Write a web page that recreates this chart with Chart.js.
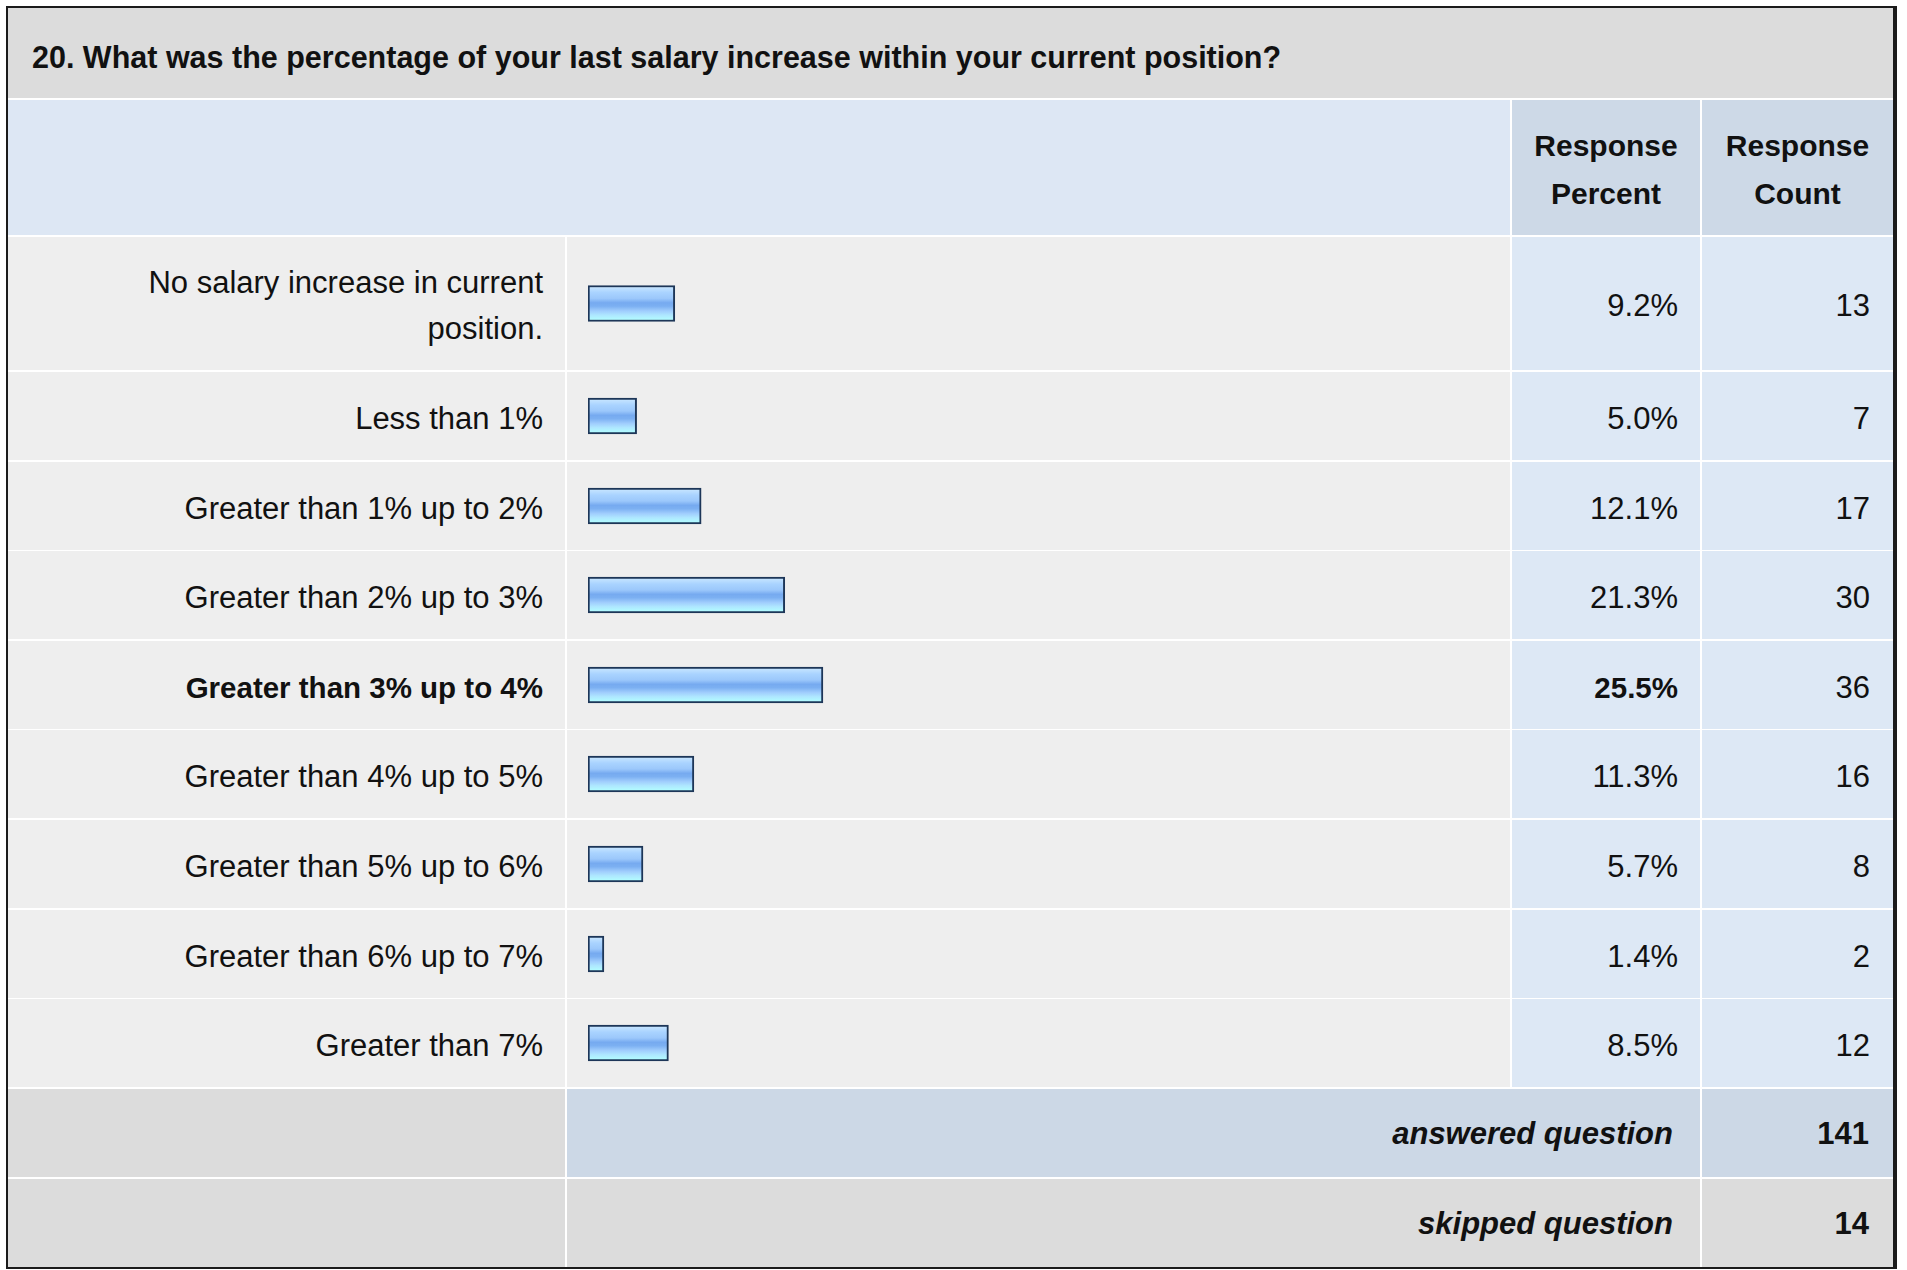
<!DOCTYPE html>
<html>
<head>
<meta charset="utf-8">
<script src="https://cdn.jsdelivr.net/npm/chart.js@4.4.0/dist/chart.umd.min.js"></script>
<style>
  body { margin: 0; background: #fff; font-family: "Liberation Sans", Arial, sans-serif; color: #111; }
  #frame { position: absolute; left: 6px; top: 6px; width: 1885px; height: 1259px; border: 2px solid #1b1b1b; border-right-width: 4px; background: #fff; }
  .cell { position: absolute; box-sizing: border-box; display: flex; align-items: center; }
  .title { background: #dcdcdc; font-weight: bold; font-size: 30.5px; padding: 8px 0 0 24px; }
  .head { background: #dde7f4; }
  .headcol { background: #cdd9e7; font-weight: bold; font-size: 30px; justify-content: center; text-align: center; line-height: 48px; padding-top: 4px; }
  .label { background: #eeeeee; font-size: 31px; justify-content: flex-end; text-align: right; padding-right: 22px; line-height: 46px; padding-top: 5px; }
  .label span { max-width: 430px; }
  .bar { background: #eeeeee; }
  .val { background: #dde8f5; font-size: 31px; justify-content: flex-end; padding-top: 5px; }
  .pct { padding-right: 22px; }
  .cnt { padding-right: 23px; }
  .foot { background: #dcdcdc; }
  .foot.blue { background: #ccd8e6; }
  .foottxt { font-size: 31px; font-weight: bold; justify-content: flex-end; padding-top: 2px; }
  .bold { font-weight: bold; font-size: 29.5px; }
</style>
</head>
<body>
<div id="frame"></div>
<div id="table"></div>
<script>
const questionTitle = '20. What was the percentage of your last salary increase within your current position?';
const categories = [
  'No salary increase in current position.',
  'Less than 1%',
  'Greater than 1% up to 2%',
  'Greater than 2% up to 3%',
  'Greater than 3% up to 4%',
  'Greater than 4% up to 5%',
  'Greater than 5% up to 6%',
  'Greater than 6% up to 7%',
  'Greater than 7%'
];
const responsePercent = [9.2, 5.0, 12.1, 21.3, 25.5, 11.3, 5.7, 1.4, 8.5];
const responseCount = [13, 7, 17, 30, 36, 16, 8, 2, 12];
const answeredQuestion = 141;
const skippedQuestion = 14;

const table = document.getElementById('table');

function addCell(cls, x, y, w, h, html) {
  const d = document.createElement('div');
  d.className = 'cell ' + cls;
  d.style.left = x + 'px';
  d.style.top = y + 'px';
  d.style.width = w + 'px';
  d.style.height = h + 'px';
  if (html !== undefined) d.innerHTML = html;
  table.appendChild(d);
  return d;
}

function barGradient(c) {
  const area = c.chart.chartArea;
  if (!area) return '#8ebdf5';
  const mid = (area.top + area.bottom) / 2;
  const g = c.chart.ctx.createLinearGradient(0, mid - 17, 0, mid + 17);
  g.addColorStop(0, '#c8e6ff');
  g.addColorStop(0.18, '#a9d3ff');
  g.addColorStop(0.35, '#9cc8fb');
  g.addColorStop(0.48, '#76aaf0');
  g.addColorStop(0.58, '#7cb0f2');
  g.addColorStop(0.72, '#a0cdfd');
  g.addColorStop(0.84, '#aee6ff');
  g.addColorStop(1, '#b2ffff');
  return g;
}

function drawBar(cell, w, h, value) {
  const canvas = document.createElement('canvas');
  canvas.width = w;
  canvas.height = h;
  cell.appendChild(canvas);
  new Chart(canvas, {
    type: 'bar',
    data: {
      labels: [''],
      datasets: [{
        data: [value],
        base: -0.35,  // border sits outside the value, like the original
        barThickness: 36,
        borderWidth: 2,
        borderColor: '#1d3658',
        borderSkipped: false,
        backgroundColor: barGradient
      }]
    },
    options: {
      indexAxis: 'y',
      responsive: false,
      animation: false,
      devicePixelRatio: 1,
      layout: { padding: { left: 21, right: 10, top: 0, bottom: 0 } },
      scales: {
        x: { display: false, min: -0.35, max: 100 },
        y: { display: false }
      },
      plugins: { legend: { display: false }, tooltip: { enabled: false } }
    }
  });
}

// title + header
addCell('title', 8, 8, 1885, 90, questionTitle);
addCell('head', 8, 100, 1502, 135);
addCell('headcol', 1512, 100, 188, 135, 'Response<br>Percent');
addCell('headcol', 1702, 100, 191, 135, 'Response<br>Count');

// answer rows
const maxIdx = responsePercent.indexOf(Math.max(...responsePercent));
categories.forEach((cat, i) => {
  const top = i === 0 ? 237 : Math.round(372 + (i - 1) * 89.6);
  const h = i === 0 ? 133 : 88;
  const b = i === maxIdx ? ' bold' : '';
  addCell('label' + b, 8, top, 557, h, '<span>' + cat + '</span>');
  const barCell = addCell('bar', 567, top, 943, h);
  drawBar(barCell, 943, h, responsePercent[i]);
  addCell('val pct' + b, 1512, top, 188, h, responsePercent[i].toFixed(1) + '%');
  addCell('val cnt', 1702, top, 191, h, responseCount[i]);
});

// footer
addCell('foot', 8, 1089, 557, 88);
addCell('foot blue foottxt', 567, 1089, 1133, 88, '<i>answered question</i>').style.paddingRight = '27px';
addCell('foot blue foottxt', 1702, 1089, 191, 88, answeredQuestion).style.paddingRight = '24px';
addCell('foot', 8, 1179, 557, 88);
addCell('foot foottxt', 567, 1179, 1133, 88, '<i>skipped question</i>').style.paddingRight = '27px';
addCell('foot foottxt', 1702, 1179, 191, 88, skippedQuestion).style.paddingRight = '24px';
</script>
</body>
</html>
